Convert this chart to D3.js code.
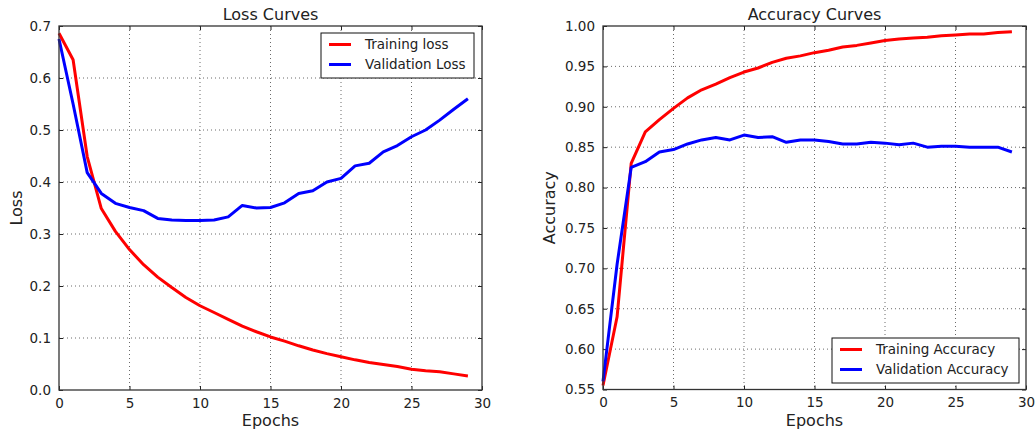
<!DOCTYPE html>
<html>
<head>
<meta charset="utf-8">
<script src="https://cdn.jsdelivr.net/npm/d3@7"></script>
<style>
  body { margin: 0; background: #fff; }
  svg { font-family: "DejaVu Sans", sans-serif; }
</style>
</head>
<body>
<div id="chart"></div>
<script>
// values
let epochs = d3.range(30);

let trainLoss = [0.686, 0.635, 0.449, 0.349, 0.305, 0.270, 0.241, 0.217, 0.197, 0.178,
  0.162, 0.149, 0.136, 0.123, 0.112, 0.102, 0.094, 0.085, 0.077, 0.070,
  0.064, 0.058, 0.053, 0.049, 0.045, 0.040, 0.037, 0.035, 0.031, 0.027];

let valLoss = [0.675, 0.550, 0.418, 0.378, 0.359, 0.351, 0.345, 0.330, 0.327, 0.326,
  0.326, 0.327, 0.333, 0.355, 0.350, 0.351, 0.360, 0.378, 0.383, 0.400,
  0.407, 0.431, 0.436, 0.458, 0.470, 0.487, 0.500, 0.519, 0.540, 0.560];

let trainAcc = [0.555, 0.640, 0.830, 0.869, 0.884, 0.898, 0.911, 0.921, 0.928, 0.936,
  0.943, 0.948, 0.955, 0.960, 0.963, 0.967, 0.970, 0.974, 0.976, 0.979,
  0.982, 0.984, 0.985, 0.986, 0.988, 0.989, 0.990, 0.990, 0.992, 0.993];

let valAcc = [0.560, 0.705, 0.825, 0.832, 0.844, 0.847, 0.854, 0.859, 0.862, 0.859,
  0.865, 0.862, 0.863, 0.856, 0.859, 0.859, 0.857, 0.854, 0.854, 0.856,
  0.855, 0.853, 0.855, 0.850, 0.851, 0.851, 0.850, 0.850, 0.850, 0.844];

let xTicks = [0, 5, 10, 15, 20, 25, 30];
let lossTicks = [0.0, 0.1, 0.2, 0.3, 0.4, 0.5, 0.6, 0.7];
let accTicks = [0.55, 0.60, 0.65, 0.70, 0.75, 0.80, 0.85, 0.90, 0.95, 1.00];

let width = 1035, height = 432;

let svg = d3.select("#chart").append("svg")
  .attr("width", width)
  .attr("height", height);

function panel(opts) {
  let x = d3.scaleLinear().domain([0, 30]).range([opts.left, opts.right]);
  let y = d3.scaleLinear().domain(opts.yDomain).range([opts.bottom, opts.top]);
  let g = svg.append("g");

  // dotted grid
  g.append("g").selectAll("line")
    .data(xTicks.slice(1, -1))
    .enter().append("line")
    .attr("x1", d => x(d)).attr("x2", d => x(d))
    .attr("y1", opts.top).attr("y2", opts.bottom)
    .attr("stroke", "#444").attr("stroke-width", 0.8)
    .attr("stroke-dasharray", "1,3");
  g.append("g").selectAll("line")
    .data(opts.yTicks.slice(1, -1))
    .enter().append("line")
    .attr("x1", opts.left).attr("x2", opts.right)
    .attr("y1", d => y(d)).attr("y2", d => y(d))
    .attr("stroke", "#444").attr("stroke-width", 0.8)
    .attr("stroke-dasharray", "1,3");

  // axes, ticks pointing inward on all four sides
  let fmt = d3.format(opts.fmt);
  let styleAxis = function(a) {
    a.select(".domain").remove();
    a.selectAll(".tick line").attr("stroke", "#222");
    a.selectAll(".tick text").attr("fill", "#222").style("font-size", "13.5px")
      .style("font-family", "DejaVu Sans, sans-serif");
  };
  g.append("g").attr("transform", "translate(0," + opts.bottom + ")")
    .call(d3.axisBottom(x).tickValues(xTicks).tickSize(-4).tickPadding(8).tickFormat(d3.format("d")))
    .call(styleAxis);
  g.append("g").attr("transform", "translate(0," + opts.top + ")")
    .call(d3.axisTop(x).tickValues(xTicks).tickSize(-4).tickFormat(""))
    .call(styleAxis);
  g.append("g").attr("transform", "translate(" + opts.left + ",0)")
    .call(d3.axisLeft(y).tickValues(opts.yTicks).tickSize(-4).tickPadding(8).tickFormat(fmt))
    .call(styleAxis);
  g.append("g").attr("transform", "translate(" + opts.right + ",0)")
    .call(d3.axisRight(y).tickValues(opts.yTicks).tickSize(-4).tickFormat(""))
    .call(styleAxis);

  // curves
  opts.series.forEach(function(s) {
    let line = d3.line().x((d, i) => x(epochs[i])).y(d => y(d));
    g.append("path")
      .datum(s.values)
      .attr("fill", "none")
      .attr("stroke", s.color)
      .attr("stroke-width", 3)
      .attr("stroke-linejoin", "round")
      .attr("d", line);
  });

  // frame
  g.append("rect")
    .attr("x", opts.left).attr("y", opts.top)
    .attr("width", opts.right - opts.left).attr("height", opts.bottom - opts.top)
    .attr("fill", "none").attr("stroke", "#333").attr("stroke-width", 1.3);

  // texts
  let cx = (opts.left + opts.right) / 2;
  g.append("text").attr("x", cx).attr("y", opts.top - 6)
    .attr("text-anchor", "middle").style("font-size", "16px").attr("fill", "#222")
    .text(opts.title);
  g.append("text").attr("x", cx).attr("y", opts.bottom + 36)
    .attr("text-anchor", "middle").style("font-size", "16px").attr("fill", "#222")
    .text("Epochs");
  g.append("text")
    .attr("transform", "translate(" + opts.yLabelX + "," + ((opts.top + opts.bottom) / 2) + ") rotate(-90)")
    .attr("text-anchor", "middle").style("font-size", "16px").attr("fill", "#222")
    .text(opts.yLabel);

  // legend
  let lg = g.append("g").attr("transform", "translate(" + opts.legend[0] + "," + opts.legend[1] + ")");
  lg.append("rect")
    .attr("width", opts.legend[2]).attr("height", 45)
    .attr("fill", "#fff").attr("stroke", "#111").attr("stroke-width", 1);
  opts.series.forEach(function(s, i) {
    let yy = 11.5 + i * 20;
    lg.append("line").attr("x1", 8).attr("x2", 30).attr("y1", yy).attr("y2", yy)
      .attr("stroke", s.color).attr("stroke-width", 3);
    lg.append("text").attr("x", 44).attr("y", yy).attr("dy", "0.35em")
      .style("font-size", "13.5px").attr("fill", "#222")
      .text(s.name);
  });
}

panel({
  left: 59, right: 482, top: 26, bottom: 390,
  yDomain: [0, 0.7], yTicks: lossTicks, fmt: ".1f",
  title: "Loss Curves", yLabel: "Loss", yLabelX: 22,
  legend: [321, 33, 153],
  series: [
    {name: "Training loss", values: trainLoss, color: "#ff0000"},
    {name: "Validation Loss", values: valLoss, color: "#0000ff"}
  ]
});

panel({
  left: 603, right: 1026, top: 26, bottom: 389.5,
  yDomain: [0.55, 1.0], yTicks: accTicks, fmt: ".2f",
  title: "Accuracy Curves", yLabel: "Accuracy", yLabelX: 555,
  legend: [832, 338, 187],
  series: [
    {name: "Training Accuracy", values: trainAcc, color: "#ff0000"},
    {name: "Validation Accuracy", values: valAcc, color: "#0000ff"}
  ]
});
</script>
</body>
</html>
